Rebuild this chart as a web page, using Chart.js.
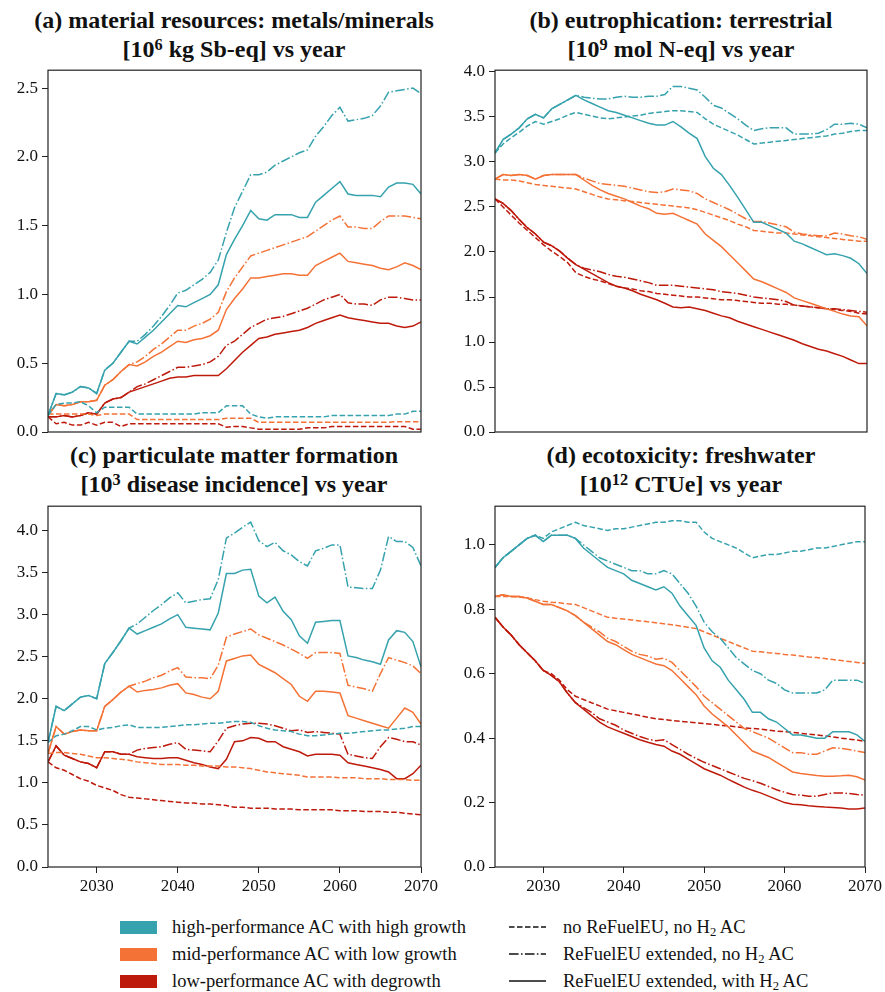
<!DOCTYPE html>
<html>
<head>
<meta charset="utf-8">
<script src="https://cdn.jsdelivr.net/npm/chart.js@4.4.1/dist/chart.umd.min.js"></script>
<style>
  body { margin: 0; background: #fff; }
  #page { position: relative; width: 885px; height: 992px; overflow: hidden; font-family: "Liberation Serif", "LiberationSerif", Tinos, "Noto Serif", "DejaVu Serif", "FreeSerif", "Nimbus Roman", "Nimbus Roman No9 L", Times, serif; color: #111; }
  canvas { position: absolute; }
  .title { position: absolute; width: 500px; text-align: center; font-weight: bold; font-size: 24px; line-height: 29px; }
  .title sup { font-size: 0.68em; line-height: 0; vertical-align: 0.45em; }
  .patch { position: absolute; width: 37px; height: 13px; }
  .ltext { position: absolute; font-size: 18.5px; line-height: 20px; white-space: nowrap; }
  .ltext sub { font-size: 0.68em; line-height: 0; vertical-align: -0.25em; }
  svg { position: absolute; }
</style>
</head>
<body>
<div id="page">
  <div class="title" style="left:-16px; top:6px">(a) material resources: metals/minerals<br>[10<sup>6</sup> kg Sb-eq] vs year</div>
  <div class="title" style="left:431px; top:6px">(b) eutrophication: terrestrial<br>[10<sup>9</sup> mol N-eq] vs year</div>
  <div class="title" style="left:-16px; top:441px">(c) particulate matter formation<br>[10<sup>3</sup> disease incidence] vs year</div>
  <div class="title" style="left:431px; top:441px">(d) ecotoxicity: freshwater<br>[10<sup>12</sup> CTUe] vs year</div>

  <canvas id="chartA" width="442" height="400" style="left:0px; top:56px"></canvas>
  <canvas id="chartB" width="438" height="400" style="left:447px; top:56px"></canvas>
  <canvas id="chartC" width="442" height="416" style="left:0px; top:492px"></canvas>
  <canvas id="chartD" width="438" height="416" style="left:447px; top:492px"></canvas>

  <!-- scenario colours -->
  <div class="patch" style="left:120px; top:921px; background:#36a2ad"></div>
  <div class="ltext" style="left:172px; top:917px">high-performance AC with high growth</div>
  <div class="patch" style="left:120px; top:948px; background:#f47236"></div>
  <div class="ltext" style="left:172px; top:944px">mid-performance AC with low growth</div>
  <div class="patch" style="left:120px; top:975px; background:#be1a0c"></div>
  <div class="ltext" style="left:172px; top:971px">low-performance AC with degrowth</div>

  <!-- policy line styles -->
  <svg style="left:509px; top:925px" width="37" height="4"><line x1="0" y1="2" x2="37" y2="2" stroke="#111" stroke-width="1.6" stroke-dasharray="5.5 2.5"/></svg>
  <div class="ltext" style="left:563px; top:917px">no ReFuelEU, no H<sub>2</sub> AC</div>
  <svg style="left:509px; top:952px" width="37" height="4"><line x1="0" y1="2" x2="37" y2="2" stroke="#111" stroke-width="1.6" stroke-dasharray="9.6 2.4 1.5 2.4"/></svg>
  <div class="ltext" style="left:563px; top:944px">ReFuelEU extended, no H<sub>2</sub> AC</div>
  <svg style="left:509px; top:979px" width="37" height="4"><line x1="0" y1="2" x2="37" y2="2" stroke="#111" stroke-width="1.6"/></svg>
  <div class="ltext" style="left:563px; top:971px">ReFuelEU extended, with H<sub>2</sub> AC</div>
</div>

<script>
// years on the x axis
const years = [2024, 2025, 2026, 2027, 2028, 2029, 2030, 2031, 2032, 2033,
  2034, 2035, 2036, 2037, 2038, 2039, 2040, 2041, 2042, 2043,
  2044, 2045, 2046, 2047, 2048, 2049, 2050, 2051, 2052, 2053,
  2054, 2055, 2056, 2057, 2058, 2059, 2060, 2061, 2062, 2063,
  2064, 2065, 2066, 2067, 2068, 2069, 2070];
const xTicks = [2030, 2040, 2050, 2060, 2070];

// (a) material resources [10^6 kg Sb-eq]
const resHighRef = [0.12, 0.20, 0.21, 0.21, 0.22, 0.19, 0.14, 0.18, 0.18, 0.18,
  0.18, 0.13, 0.13, 0.13, 0.13, 0.13, 0.13, 0.13, 0.13, 0.14,
  0.14, 0.14, 0.19, 0.19, 0.19, 0.13, 0.11, 0.10, 0.11, 0.11,
  0.11, 0.11, 0.11, 0.11, 0.11, 0.12, 0.12, 0.12, 0.12, 0.12,
  0.12, 0.12, 0.12, 0.13, 0.13, 0.15, 0.15];
const resHighExt = [0.12, 0.28, 0.27, 0.29, 0.33, 0.32, 0.28, 0.45, 0.50, 0.58,
  0.66, 0.66, 0.71, 0.77, 0.84, 0.92, 1.01, 1.03, 1.07, 1.11,
  1.16, 1.25, 1.45, 1.63, 1.75, 1.87, 1.87, 1.89, 1.94, 1.97,
  2.00, 2.03, 2.05, 2.15, 2.22, 2.30, 2.36, 2.26, 2.27, 2.28,
  2.30, 2.37, 2.47, 2.48, 2.49, 2.50, 2.46];
const resHighH2 = [0.12, 0.28, 0.27, 0.29, 0.33, 0.32, 0.28, 0.45, 0.50, 0.58,
  0.66, 0.64, 0.69, 0.74, 0.80, 0.86, 0.92, 0.91, 0.94, 0.97,
  1.00, 1.07, 1.29, 1.40, 1.50, 1.61, 1.55, 1.54, 1.58, 1.58,
  1.58, 1.56, 1.56, 1.67, 1.72, 1.77, 1.82, 1.73, 1.72, 1.72,
  1.72, 1.71, 1.78, 1.81, 1.81, 1.80, 1.73];
const resMidRef = [0.13, 0.13, 0.13, 0.13, 0.13, 0.13, 0.12, 0.13, 0.13, 0.13,
  0.13, 0.09, 0.09, 0.09, 0.09, 0.09, 0.09, 0.09, 0.09, 0.09,
  0.09, 0.09, 0.10, 0.10, 0.10, 0.10, 0.07, 0.07, 0.07, 0.07,
  0.07, 0.07, 0.07, 0.07, 0.07, 0.07, 0.07, 0.07, 0.07, 0.07,
  0.07, 0.07, 0.07, 0.075, 0.075, 0.075, 0.075];
const resMidExt = [0.12, 0.20, 0.19, 0.20, 0.22, 0.22, 0.23, 0.34, 0.38, 0.44,
  0.49, 0.51, 0.55, 0.60, 0.64, 0.69, 0.74, 0.74, 0.77, 0.79,
  0.82, 0.87, 1.02, 1.12, 1.20, 1.28, 1.30, 1.32, 1.34, 1.36,
  1.38, 1.40, 1.42, 1.46, 1.50, 1.54, 1.57, 1.49, 1.49, 1.48,
  1.48, 1.53, 1.57, 1.57, 1.57, 1.56, 1.55];
const resMidH2 = [0.12, 0.20, 0.19, 0.20, 0.22, 0.22, 0.23, 0.34, 0.38, 0.44,
  0.49, 0.48, 0.51, 0.55, 0.58, 0.62, 0.66, 0.65, 0.67, 0.68,
  0.70, 0.74, 0.89, 0.97, 1.04, 1.12, 1.12, 1.13, 1.14, 1.15,
  1.15, 1.14, 1.14, 1.21, 1.24, 1.27, 1.30, 1.24, 1.23, 1.22,
  1.21, 1.19, 1.18, 1.20, 1.23, 1.21, 1.18];
const resLowRef = [0.11, 0.06, 0.07, 0.05, 0.05, 0.07, 0.05, 0.07, 0.07, 0.04,
  0.06, 0.06, 0.06, 0.06, 0.06, 0.06, 0.06, 0.06, 0.06, 0.06,
  0.06, 0.06, 0.035, 0.04, 0.04, 0.03, 0.02, 0.02, 0.02, 0.02,
  0.02, 0.02, 0.03, 0.03, 0.03, 0.04, 0.04, 0.04, 0.04, 0.04,
  0.04, 0.04, 0.04, 0.04, 0.04, 0.02, 0.02];
const resLowExt = [0.11, 0.11, 0.12, 0.11, 0.12, 0.14, 0.13, 0.21, 0.24, 0.25,
  0.29, 0.33, 0.35, 0.38, 0.41, 0.44, 0.47, 0.47, 0.48, 0.49,
  0.51, 0.55, 0.63, 0.66, 0.71, 0.76, 0.79, 0.82, 0.83, 0.84,
  0.86, 0.88, 0.90, 0.93, 0.96, 0.98, 1.00, 0.94, 0.93, 0.93,
  0.92, 0.96, 0.98, 0.98, 0.97, 0.96, 0.96];
const resLowH2 = [0.11, 0.11, 0.12, 0.11, 0.12, 0.14, 0.13, 0.21, 0.24, 0.25,
  0.29, 0.31, 0.33, 0.35, 0.37, 0.39, 0.40, 0.40, 0.41, 0.41,
  0.41, 0.41, 0.46, 0.52, 0.58, 0.63, 0.68, 0.69, 0.71, 0.72,
  0.73, 0.74, 0.76, 0.79, 0.81, 0.83, 0.85, 0.83, 0.82, 0.81,
  0.80, 0.79, 0.79, 0.77, 0.76, 0.77, 0.80];

// (b) eutrophication [10^9 mol N-eq]
const eutHighRef = [3.10, 3.20, 3.27, 3.33, 3.40, 3.45, 3.42, 3.45, 3.48, 3.52,
  3.55, 3.53, 3.51, 3.49, 3.48, 3.49, 3.50, 3.51, 3.52, 3.54,
  3.55, 3.56, 3.57, 3.57, 3.56, 3.55, 3.48, 3.42, 3.38, 3.34,
  3.30, 3.25, 3.20, 3.21, 3.22, 3.23, 3.24, 3.25, 3.26, 3.27,
  3.28, 3.29, 3.31, 3.32, 3.34, 3.35, 3.35];
const eutHighExt = [3.10, 3.25, 3.31, 3.38, 3.48, 3.53, 3.49, 3.59, 3.64, 3.69,
  3.74, 3.72, 3.71, 3.70, 3.70, 3.72, 3.73, 3.72, 3.72, 3.73,
  3.73, 3.75, 3.84, 3.84, 3.82, 3.80, 3.72, 3.63, 3.60, 3.54,
  3.48, 3.41, 3.35, 3.37, 3.38, 3.38, 3.38, 3.31, 3.31, 3.31,
  3.32, 3.36, 3.42, 3.42, 3.43, 3.42, 3.38];
const eutHighH2 = [3.10, 3.25, 3.31, 3.38, 3.48, 3.53, 3.49, 3.59, 3.64, 3.69,
  3.74, 3.69, 3.65, 3.61, 3.57, 3.55, 3.52, 3.49, 3.46, 3.43,
  3.41, 3.41, 3.45, 3.39, 3.32, 3.26, 3.06, 2.93, 2.86, 2.74,
  2.61, 2.47, 2.33, 2.33, 2.29, 2.25, 2.21, 2.12, 2.09, 2.05,
  2.01, 1.97, 1.98, 1.96, 1.93, 1.87, 1.76];
const eutMidRef = [2.81, 2.80, 2.80, 2.79, 2.77, 2.75, 2.74, 2.73, 2.72, 2.71,
  2.70, 2.67, 2.64, 2.61, 2.59, 2.58, 2.57, 2.56, 2.55, 2.54,
  2.53, 2.52, 2.51, 2.50, 2.49, 2.47, 2.44, 2.41, 2.38, 2.35,
  2.31, 2.28, 2.24, 2.23, 2.22, 2.21, 2.21, 2.20, 2.19, 2.18,
  2.17, 2.16, 2.15, 2.14, 2.13, 2.12, 2.12];
const eutMidExt = [2.81, 2.86, 2.85, 2.86, 2.85, 2.81, 2.85, 2.86, 2.86, 2.86,
  2.86, 2.82, 2.79, 2.76, 2.75, 2.74, 2.73, 2.71, 2.69, 2.67,
  2.66, 2.67, 2.70, 2.69, 2.68, 2.65, 2.59, 2.55, 2.51, 2.47,
  2.42, 2.37, 2.34, 2.34, 2.32, 2.30, 2.28, 2.22, 2.20, 2.19,
  2.18, 2.18, 2.21, 2.20, 2.18, 2.17, 2.14];
const eutMidH2 = [2.81, 2.86, 2.85, 2.86, 2.85, 2.81, 2.85, 2.86, 2.86, 2.86,
  2.86, 2.80, 2.74, 2.69, 2.65, 2.62, 2.59, 2.55, 2.51, 2.48,
  2.43, 2.42, 2.43, 2.39, 2.35, 2.31, 2.20, 2.13, 2.06, 1.97,
  1.88, 1.79, 1.70, 1.67, 1.63, 1.59, 1.55, 1.49, 1.46, 1.43,
  1.40, 1.37, 1.34, 1.31, 1.29, 1.28, 1.18];
const eutLowRef = [2.59, 2.50, 2.41, 2.32, 2.24, 2.16, 2.08, 2.01, 1.95, 1.88,
  1.77, 1.73, 1.70, 1.68, 1.65, 1.62, 1.60, 1.59, 1.57, 1.56,
  1.54, 1.53, 1.52, 1.51, 1.50, 1.50, 1.49, 1.48, 1.47, 1.47,
  1.46, 1.45, 1.44, 1.43, 1.43, 1.42, 1.42, 1.41, 1.40, 1.39,
  1.38, 1.37, 1.36, 1.35, 1.34, 1.32, 1.31];
const eutLowExt = [2.59, 2.54, 2.46, 2.36, 2.27, 2.20, 2.11, 2.07, 2.01, 1.93,
  1.86, 1.82, 1.80, 1.78, 1.75, 1.73, 1.72, 1.70, 1.68, 1.66,
  1.63, 1.63, 1.63, 1.62, 1.61, 1.60, 1.59, 1.58, 1.56, 1.55,
  1.54, 1.52, 1.50, 1.49, 1.48, 1.47, 1.45, 1.41, 1.40, 1.39,
  1.38, 1.37, 1.37, 1.36, 1.35, 1.34, 1.33];
const eutLowH2 = [2.59, 2.54, 2.46, 2.36, 2.27, 2.20, 2.11, 2.07, 2.01, 1.93,
  1.86, 1.81, 1.76, 1.71, 1.66, 1.62, 1.60, 1.57, 1.53, 1.50,
  1.47, 1.43, 1.39, 1.38, 1.39, 1.37, 1.35, 1.32, 1.29, 1.27,
  1.23, 1.20, 1.17, 1.14, 1.11, 1.08, 1.05, 1.02, 0.98, 0.95,
  0.92, 0.90, 0.87, 0.84, 0.80, 0.76, 0.76];

// (c) particulate matter formation [10^3 disease incidence]
const pmHighRef = [1.48, 1.56, 1.58, 1.62, 1.67, 1.67, 1.63, 1.65, 1.66, 1.68,
  1.69, 1.66, 1.66, 1.66, 1.66, 1.67, 1.68, 1.69, 1.69, 1.70,
  1.71, 1.71, 1.72, 1.73, 1.73, 1.72, 1.68, 1.65, 1.63, 1.62,
  1.61, 1.58, 1.56, 1.56, 1.57, 1.58, 1.59, 1.59, 1.60, 1.61,
  1.62, 1.63, 1.63, 1.64, 1.65, 1.67, 1.67];
const pmHighExt = [1.48, 1.91, 1.86, 1.94, 2.02, 2.04, 2.00, 2.42, 2.55, 2.69,
  2.84, 2.89, 2.97, 3.05, 3.12, 3.20, 3.26, 3.14, 3.16, 3.18,
  3.19, 3.42, 3.91, 3.97, 4.04, 4.10, 3.88, 3.81, 3.86, 3.76,
  3.71, 3.63, 3.58, 3.76, 3.79, 3.83, 3.83, 3.33, 3.32, 3.31,
  3.31, 3.53, 3.93, 3.87, 3.87, 3.80, 3.58];
const pmHighH2 = [1.48, 1.91, 1.86, 1.94, 2.02, 2.04, 2.00, 2.42, 2.55, 2.69,
  2.84, 2.77, 2.81, 2.85, 2.89, 2.95, 3.00, 2.85, 2.84, 2.83,
  2.82, 3.02, 3.49, 3.49, 3.53, 3.54, 3.22, 3.14, 3.21, 3.04,
  2.94, 2.75, 2.66, 2.91, 2.92, 2.93, 2.93, 2.51, 2.49, 2.46,
  2.44, 2.41, 2.70, 2.81, 2.79, 2.68, 2.38];
const pmMidRef = [1.35, 1.36, 1.36, 1.35, 1.34, 1.32, 1.30, 1.30, 1.29, 1.28,
  1.27, 1.25, 1.24, 1.23, 1.22, 1.22, 1.22, 1.21, 1.21, 1.20,
  1.20, 1.20, 1.19, 1.19, 1.18, 1.17, 1.15, 1.13, 1.12, 1.11,
  1.10, 1.09, 1.07, 1.07, 1.07, 1.07, 1.06, 1.06, 1.06, 1.05,
  1.05, 1.05, 1.04, 1.04, 1.04, 1.03, 1.03];
const pmMidExt = [1.35, 1.67, 1.58, 1.61, 1.63, 1.62, 1.62, 1.91, 1.99, 2.08,
  2.15, 2.18, 2.21, 2.25, 2.28, 2.33, 2.37, 2.26, 2.25, 2.25,
  2.24, 2.40, 2.73, 2.77, 2.80, 2.83, 2.76, 2.72, 2.68, 2.64,
  2.59, 2.54, 2.48, 2.55, 2.55, 2.55, 2.54, 2.16, 2.14, 2.12,
  2.09, 2.30, 2.49, 2.46, 2.43, 2.39, 2.30];
const pmMidH2 = [1.35, 1.67, 1.58, 1.61, 1.63, 1.62, 1.62, 1.91, 1.99, 2.08,
  2.15, 2.08, 2.10, 2.11, 2.13, 2.16, 2.18, 2.07, 2.05, 2.02,
  2.00, 2.09, 2.45, 2.48, 2.51, 2.52, 2.41, 2.36, 2.31, 2.24,
  2.17, 2.03, 1.97, 2.09, 2.09, 2.08, 2.07, 1.80, 1.77, 1.74,
  1.71, 1.68, 1.65, 1.77, 1.89, 1.84, 1.70];
const pmLowRef = [1.25, 1.18, 1.15, 1.10, 1.05, 1.02, 0.97, 0.94, 0.91, 0.86,
  0.83, 0.82, 0.81, 0.80, 0.79, 0.78, 0.77, 0.76, 0.76, 0.75,
  0.75, 0.74, 0.73, 0.71, 0.71, 0.70, 0.70, 0.70, 0.69, 0.69,
  0.69, 0.68, 0.68, 0.68, 0.68, 0.68, 0.67, 0.67, 0.67, 0.66,
  0.66, 0.66, 0.65, 0.65, 0.64, 0.63, 0.62];
const pmLowExt = [1.25, 1.44, 1.33, 1.29, 1.25, 1.23, 1.18, 1.37, 1.37, 1.34,
  1.34, 1.39, 1.41, 1.42, 1.43, 1.46, 1.48, 1.40, 1.39, 1.38,
  1.37, 1.50, 1.65, 1.68, 1.70, 1.71, 1.71, 1.70, 1.68, 1.65,
  1.62, 1.63, 1.60, 1.61, 1.60, 1.59, 1.58, 1.34, 1.32, 1.30,
  1.29, 1.43, 1.54, 1.52, 1.49, 1.49, 1.45];
const pmLowH2 = [1.25, 1.44, 1.33, 1.29, 1.25, 1.23, 1.18, 1.37, 1.37, 1.34,
  1.34, 1.31, 1.30, 1.29, 1.29, 1.30, 1.30, 1.27, 1.24, 1.22,
  1.19, 1.17, 1.28, 1.49, 1.50, 1.54, 1.53, 1.49, 1.49, 1.43,
  1.40, 1.37, 1.32, 1.34, 1.34, 1.34, 1.33, 1.24, 1.22, 1.20,
  1.18, 1.16, 1.13, 1.05, 1.05, 1.11, 1.21];

// (d) ecotoxicity freshwater [10^12 CTUe]
const ecoHighRef = [0.93, 0.96, 0.98, 1.00, 1.02, 1.03, 1.02, 1.04, 1.05, 1.06,
  1.07, 1.06, 1.055, 1.05, 1.045, 1.05, 1.05, 1.055, 1.06, 1.065,
  1.07, 1.07, 1.075, 1.075, 1.07, 1.07, 1.04, 1.02, 1.01, 1.00,
  0.99, 0.975, 0.96, 0.965, 0.97, 0.97, 0.975, 0.98, 0.98, 0.985,
  0.99, 0.99, 0.995, 1.00, 1.005, 1.01, 1.01];
const ecoHighExt = [0.93, 0.96, 0.98, 1.00, 1.02, 1.03, 1.01, 1.03, 1.03, 1.03,
  1.02, 1.00, 0.98, 0.96, 0.95, 0.94, 0.93, 0.92, 0.92, 0.91,
  0.91, 0.92, 0.91, 0.88, 0.85, 0.81, 0.76, 0.73, 0.71, 0.68,
  0.65, 0.63, 0.61, 0.60, 0.58, 0.57, 0.55, 0.54, 0.54, 0.54,
  0.54, 0.55, 0.58, 0.58, 0.58, 0.58, 0.57];
const ecoHighH2 = [0.93, 0.96, 0.98, 1.00, 1.02, 1.03, 1.01, 1.03, 1.03, 1.03,
  1.02, 0.99, 0.97, 0.95, 0.93, 0.92, 0.91, 0.89, 0.88, 0.87,
  0.86, 0.87, 0.85, 0.81, 0.78, 0.75, 0.68, 0.64, 0.62, 0.58,
  0.55, 0.52, 0.48, 0.48, 0.46, 0.45, 0.43, 0.41, 0.41, 0.405,
  0.40, 0.40, 0.42, 0.42, 0.42, 0.41, 0.39];
const ecoMidRef = [0.84, 0.84, 0.84, 0.838, 0.835, 0.83, 0.825, 0.822, 0.82, 0.817,
  0.815, 0.805, 0.795, 0.785, 0.775, 0.772, 0.77, 0.767, 0.764, 0.761,
  0.758, 0.755, 0.752, 0.748, 0.744, 0.74, 0.73, 0.72, 0.71, 0.70,
  0.69, 0.68, 0.67, 0.668, 0.665, 0.663, 0.66, 0.658, 0.655, 0.652,
  0.65, 0.647, 0.644, 0.641, 0.638, 0.635, 0.632];
const ecoMidExt = [0.84, 0.845, 0.84, 0.84, 0.835, 0.825, 0.815, 0.815, 0.805, 0.795,
  0.78, 0.76, 0.745, 0.73, 0.71, 0.70, 0.685, 0.67, 0.66, 0.655,
  0.645, 0.648, 0.635, 0.61, 0.585, 0.56, 0.53, 0.51, 0.49, 0.47,
  0.45, 0.43, 0.42, 0.41, 0.40, 0.385, 0.37, 0.355, 0.355, 0.35,
  0.35, 0.36, 0.37, 0.368, 0.365, 0.36, 0.355];
const ecoMidH2 = [0.84, 0.845, 0.84, 0.84, 0.835, 0.825, 0.815, 0.815, 0.805, 0.795,
  0.78, 0.76, 0.74, 0.72, 0.70, 0.69, 0.675, 0.66, 0.65, 0.64,
  0.63, 0.625, 0.61, 0.585, 0.56, 0.535, 0.50, 0.475, 0.455, 0.435,
  0.41, 0.385, 0.36, 0.35, 0.34, 0.325, 0.31, 0.295, 0.29, 0.287,
  0.284, 0.282, 0.282, 0.283, 0.285, 0.28, 0.27];
const ecoLowRef = [0.775, 0.745, 0.72, 0.69, 0.665, 0.64, 0.61, 0.60, 0.58, 0.55,
  0.53, 0.52, 0.51, 0.50, 0.49, 0.485, 0.48, 0.475, 0.47, 0.465,
  0.46, 0.458, 0.455, 0.452, 0.45, 0.448, 0.445, 0.443, 0.44, 0.438,
  0.435, 0.432, 0.43, 0.428, 0.425, 0.422, 0.42, 0.418, 0.415, 0.412,
  0.41, 0.407, 0.404, 0.40, 0.397, 0.394, 0.39];
const ecoLowExt = [0.775, 0.745, 0.72, 0.69, 0.665, 0.64, 0.61, 0.595, 0.575, 0.54,
  0.51, 0.495, 0.48, 0.46, 0.45, 0.44, 0.425, 0.415, 0.405, 0.397,
  0.392, 0.395, 0.38, 0.365, 0.35, 0.337, 0.325, 0.315, 0.305, 0.295,
  0.285, 0.275, 0.268, 0.26, 0.25, 0.24, 0.232, 0.225, 0.223, 0.22,
  0.22, 0.225, 0.23, 0.23, 0.228, 0.225, 0.223];
const ecoLowH2 = [0.775, 0.745, 0.72, 0.69, 0.665, 0.64, 0.61, 0.595, 0.575, 0.54,
  0.51, 0.49, 0.47, 0.45, 0.435, 0.425, 0.415, 0.405, 0.395, 0.387,
  0.38, 0.375, 0.36, 0.35, 0.335, 0.32, 0.305, 0.295, 0.285, 0.272,
  0.26, 0.248, 0.238, 0.23, 0.22, 0.21, 0.20, 0.195, 0.193, 0.19,
  0.188, 0.186, 0.185, 0.183, 0.18, 0.18, 0.183];

const TEAL = '#36a2ad', ORANGE = '#f47236', RED = '#be1a0c';
const DASHED = [5.5, 2.5];
const DASHDOT = [9.6, 2.4, 1.5, 2.4];
const SOLID = [];

Chart.defaults.font.family = "'Liberation Serif', LiberationSerif, Tinos, 'Noto Serif', 'DejaVu Serif', FreeSerif, 'Nimbus Roman', Times, serif";
Chart.defaults.color = '#111';

// box around the plot area, drawn over the lines like matplotlib spines
const framePlugin = {
  id: 'frame',
  afterDatasetsDraw(chart) {
    const { ctx, chartArea: a } = chart;
    ctx.save();
    ctx.strokeStyle = '#222';
    ctx.lineWidth = 1.2;
    ctx.strokeRect(a.left, a.top, a.right - a.left, a.bottom - a.top);
    ctx.restore();
  }
};

function line(values, color, dash) {
  return {
    data: years.map((yr, i) => ({ x: yr, y: values[i] })),
    borderColor: color,
    borderWidth: 1.5,
    borderDash: dash,
    pointRadius: 0,
    tension: 0,
    fill: false
  };
}

function makePanel(id, series, yMax, yTicks, showX, padRight, padTop, xHeight) {
  new Chart(document.getElementById(id), {
    type: 'line',
    data: { datasets: series.map(s => line(s[0], s[1], s[2])) },
    plugins: [framePlugin],
    options: {
      responsive: false,
      animation: false,
      events: [],
      layout: { padding: { left: 0, right: padRight, top: padTop, bottom: 0 } },
      plugins: { legend: { display: false }, tooltip: { enabled: false } },
      scales: {
        x: {
          type: 'linear',
          min: 2024,
          max: 2070,
          afterBuildTicks: s => { s.ticks = xTicks.map(v => ({ value: v })); },
          afterFit: s => { s.height = xHeight; },
          border: { display: false },
          grid: { display: showX, drawOnChartArea: false, drawTicks: true, tickLength: 6, color: '#222', lineWidth: 1 },
          ticks: { display: showX, autoSkip: false, maxRotation: 0, padding: 3, font: { size: 17 }, callback: v => String(v) }
        },
        y: {
          min: 0,
          max: yMax,
          afterBuildTicks: s => { s.ticks = yTicks.map(v => ({ value: v })); },
          afterFit: s => { s.width = 48; },
          border: { display: false },
          grid: { drawOnChartArea: false, drawTicks: true, tickLength: 6, color: '#222', lineWidth: 1 },
          ticks: { autoSkip: false, padding: 4, font: { size: 17 }, callback: v => v.toFixed(1) }
        }
      }
    }
  });
}

makePanel('chartA', [
  [resHighRef, TEAL, DASHED], [resHighExt, TEAL, DASHDOT], [resHighH2, TEAL, SOLID],
  [resMidRef, ORANGE, DASHED], [resMidExt, ORANGE, DASHDOT], [resMidH2, ORANGE, SOLID],
  [resLowRef, RED, DASHED], [resLowExt, RED, DASHDOT], [resLowH2, RED, SOLID]
], 2.63, [0, 0.5, 1.0, 1.5, 2.0, 2.5], false, 21, 13, 24);

makePanel('chartB', [
  [eutHighRef, TEAL, DASHED], [eutHighExt, TEAL, DASHDOT], [eutHighH2, TEAL, SOLID],
  [eutMidRef, ORANGE, DASHED], [eutMidExt, ORANGE, DASHDOT], [eutMidH2, ORANGE, SOLID],
  [eutLowRef, RED, DASHED], [eutLowExt, RED, DASHDOT], [eutLowH2, RED, SOLID]
], 4.02, [0, 0.5, 1.0, 1.5, 2.0, 2.5, 3.0, 3.5, 4.0], false, 18, 13, 24);

makePanel('chartC', [
  [pmHighRef, TEAL, DASHED], [pmHighExt, TEAL, DASHDOT], [pmHighH2, TEAL, SOLID],
  [pmMidRef, ORANGE, DASHED], [pmMidExt, ORANGE, DASHDOT], [pmMidH2, ORANGE, SOLID],
  [pmLowRef, RED, DASHED], [pmLowExt, RED, DASHDOT], [pmLowH2, RED, SOLID]
], 4.29, [0, 0.5, 1.0, 1.5, 2.0, 2.5, 3.0, 3.5, 4.0], true, 21, 12, 41);

makePanel('chartD', [
  [ecoHighRef, TEAL, DASHED], [ecoHighExt, TEAL, DASHDOT], [ecoHighH2, TEAL, SOLID],
  [ecoMidRef, ORANGE, DASHED], [ecoMidExt, ORANGE, DASHDOT], [ecoMidH2, ORANGE, SOLID],
  [ecoLowRef, RED, DASHED], [ecoLowExt, RED, DASHDOT], [ecoLowH2, RED, SOLID]
], 1.12, [0, 0.2, 0.4, 0.6, 0.8, 1.0], true, 18, 12, 41);
</script>
</body>
</html>
